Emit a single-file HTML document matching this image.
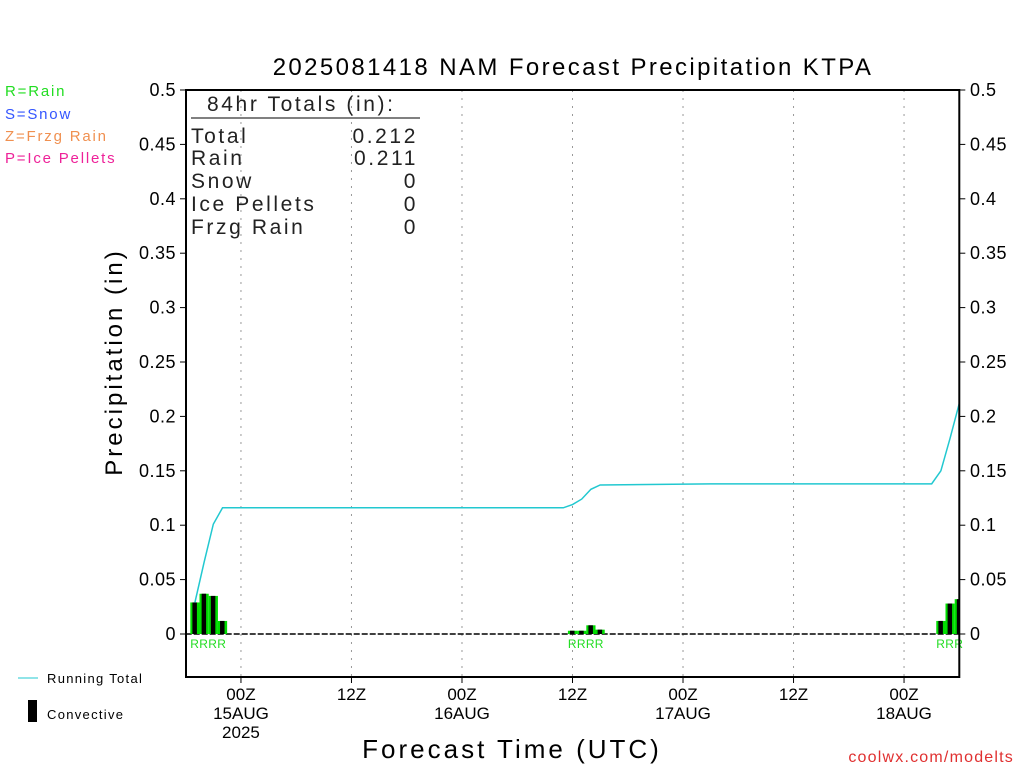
<!DOCTYPE html>
<html><head><meta charset="utf-8"><style>
body{margin:0;background:#fff;width:1024px;height:768px;overflow:hidden}
text{font-family:"Liberation Sans",sans-serif}
</style></head><body>
<svg id="chart" width="1024" height="768" viewBox="0 0 1024 768">
<text x="573" y="75" font-size="24" text-anchor="middle" fill="#000" letter-spacing="2.4">2025081418 NAM Forecast Precipitation KTPA</text>
<g font-size="15" letter-spacing="1.8">
<text x="5" y="96" fill="#22dd22">R=Rain</text>
<text x="5" y="119" fill="#3355ff">S=Snow</text>
<text x="5" y="141" fill="#f09050">Z=Frzg Rain</text>
<text x="5" y="163" fill="#ee2299">P=Ice Pellets</text>
</g>
<text transform="translate(122,362) rotate(-90)" font-size="24" text-anchor="middle" letter-spacing="3">Precipitation (in)</text>
<text x="512" y="758" font-size="26" text-anchor="middle" letter-spacing="3">Forecast Time (UTC)</text>
<text x="1014" y="762" font-size="16" text-anchor="end" fill="#e03030" letter-spacing="1.2">coolwx.com/modelts</text>
<g>
<line x1="18" y1="678" x2="38" y2="678" stroke="#22c8d0" stroke-width="1"/>
<text x="47" y="683" font-size="13" letter-spacing="1.3">Running Total</text>
<rect x="28" y="700" width="9" height="22" fill="#000"/>
<text x="47" y="719" font-size="13" letter-spacing="1.3">Convective</text>
</g>
<g id="grid"></g><g id="bars"></g><g id="line"></g><g id="axes"></g>
<g font-size="21" fill="#222" letter-spacing="2.6">
<text x="207" y="111">84hr Totals (in):</text>
<line x1="191" y1="118" x2="420" y2="118" stroke="#000" stroke-width="1"/>
<text x="191" y="143">Total</text><text x="418" y="143" text-anchor="end" letter-spacing="2.6">0.212</text>
<text x="191" y="165">Rain</text><text x="418" y="165" text-anchor="end">0.211</text>
<text x="191" y="188">Snow</text><text x="418" y="188" text-anchor="end">0</text>
<text x="191" y="211">Ice Pellets</text><text x="418" y="211" text-anchor="end">0</text>
<text x="191" y="234">Frzg Rain</text><text x="418" y="234" text-anchor="end">0</text>
</g>
</svg>
<script>
const precipHours=[1,2,3,4,42,43,44,45,82,83,84];
const precipValues=[0.029,0.037,0.035,0.012,0.003,0.003,0.008,0.004,0.012,0.028,0.032];
const totalHours=[1,2,3,4,41,42,43,44,45,57,81,82,83,84];
const totalValues=[0.029,0.066,0.101,0.116,0.116,0.119,0.124,0.133,0.137,0.138,0.138,0.150,0.180,0.212];
const yTicks=[0,0.05,0.1,0.15,0.2,0.25,0.3,0.35,0.4,0.45,0.5];
const xTickHours=[6,18,30,42,54,66,78];
const xTickLabels=[["00Z","15AUG","2025"],["12Z"],["00Z","16AUG"],["12Z"],["00Z","17AUG"],["12Z"],["00Z","18AUG"]];
const rainLabelGroups=[[1,"RRRR"],[42,"RRRR"],[82,"RRR"]];
const L=185.7,R=959.3,T=90,B=677,Y0=634,Y5=90;
const xs=h=>L+(R-L)*h/84, ys=v=>Y0-(Y0-Y5)*v/0.5;
const NS="http://www.w3.org/2000/svg";
function mk(p,t,a){const e=document.createElementNS(NS,t);for(const k in a)e.setAttribute(k,a[k]);document.getElementById(p).appendChild(e);return e;}
xTickHours.forEach((h,i)=>{
 const g=mk('grid','line',{x1:xs(h),x2:xs(h),y1:T,y2:B,stroke:'#999','stroke-dasharray':'2,6'});
 
 
 const tk=mk('axes','line',{x1:xs(h),x2:xs(h),y1:B,y2:B+6,stroke:'#000'});
 
 
 xTickLabels[i].forEach((s,j)=>{const t=mk('axes','text',{x:xs(h),y:B+23+j*19,'font-size':17,'text-anchor':'middle'});t.textContent=s;
 
 });
});
const z=mk('grid','line',{x1:L,x2:R,y1:Y0,y2:Y0,stroke:'#000','stroke-width':1.5,'stroke-dasharray':'6,2'});


precipHours.forEach((h,i)=>{
 const x=xs(h),w=9.2,v=precipValues[i];
 const x0=Math.max(L,x-w/2),x1=Math.min(R,x+w/2);
 const b=mk('bars','rect',{x:x0,y:ys(v),width:x1-x0,height:Y0-ys(v),fill:'#00dd00'});
 
 
 const c=mk('bars','rect',{x:Math.max(L,x-2.5),y:ys(v),width:Math.min(R,x+2)-Math.max(L,x-2.5),height:Y0-ys(v),fill:'#000'});
 
 
});
rainLabelGroups.forEach(([h,s])=>{const t=mk('bars','text',{x:xs(h)-4.6,y:648,'font-size':12,fill:'#22dd22','letter-spacing':'0.3'});t.textContent=s;
 
 });
const pl=mk('line','polyline',{points:totalHours.map((h,i)=>xs(h)+','+ys(totalValues[i])).join(' '),fill:'none',stroke:'#22c8d0','stroke-width':1.5});


const fr=mk('axes','rect',{x:186,y:T,width:R-186,height:B-T,fill:'none',stroke:'#000','stroke-width':2});


yTicks.forEach(v=>{
 const y=ys(v);
 mk('axes','line',{x1:180,x2:186,y1:y,y2:y,stroke:'#000'});
 mk('axes','line',{x1:R,x2:R+6,y1:y,y2:y,stroke:'#000'});
 const a=mk('axes','text',{x:176,y:y+6,'font-size':18,'text-anchor':'end','letter-spacing':'0.5'});a.textContent=String(v);
 
 
 const b=mk('axes','text',{x:970,y:y+6,'font-size':18,'letter-spacing':'0.5'});b.textContent=String(v);
 
 
});
</script>
</body></html>
